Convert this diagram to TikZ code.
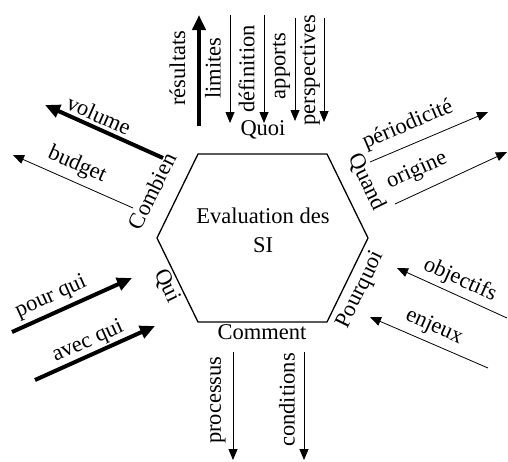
\documentclass[tikz,border=0pt]{standalone}
\usepackage{fontspec}
\setmainfont{Liberation Serif}
\newfontfamily\tnr{Liberation Serif}
\usetikzlibrary{arrows.meta}
\begin{document}
\begin{tikzpicture}[x=1pt,y=-1pt,
  lbl/.style={font=\tnr\fontsize{22.5}{29}\selectfont, inner sep=0pt},
  thinarrow/.style={line width=0.8pt, -{Triangle[length=11pt,width=9pt]}},
  thickarrow/.style={line width=4pt, -{Triangle[length=15pt,width=13pt]}},
  hexline/.style={line width=1.3pt, line join=miter}]
\useasboundingbox (0,0) rectangle (508,461);

% hexagon
\coordinate (h1) at (198,154);
\coordinate (h2) at (327,154);
\coordinate (h3) at (368,238);
\coordinate (h4) at (327,322);
\coordinate (h5) at (198,322);
\coordinate (h6) at (157,238);
\draw[hexline] (h1) -- (h2) -- (h3) -- (h4) -- (h5) -- (h6) -- cycle;
\node[lbl, align=center] (center) at (263,230) {Evaluation des\\SI};

% side labels
\node[lbl] (quoi) at (263,130) {Quoi};
\node[lbl] (comment) at (262,332) {Comment};
\node[lbl, rotate=64] (combien) at (152,191) {Combien};
\node[lbl, rotate=-64] (quand) at (367,182) {Quand};
\node[lbl, rotate=-64] (qui) at (167,286) {Qui};
\node[lbl, rotate=64] (pourquoi) at (361,290) {Pourquoi};

% Quoi arrows
\coordinate (resA) at (199,126); \coordinate (resB) at (199,15);
\coordinate (limA) at (230,15);  \coordinate (limB) at (230,123);
\coordinate (defA) at (264,15);  \coordinate (defB) at (264,123);
\coordinate (appA) at (295,18);  \coordinate (appB) at (295,121);
\coordinate (perA) at (324,18);  \coordinate (perB) at (324,122);
\draw[thickarrow] (resA) -- (resB);
\draw[thinarrow] (limA) -- (limB);
\draw[thinarrow] (defA) -- (defB);
\draw[thinarrow] (appA) -- (appB);
\draw[thinarrow] (perA) -- (perB);
\node[lbl, rotate=90] (resultats) at (177.5,68) {résultats};
\node[lbl, rotate=90] (limites) at (213,68) {limites};
\node[lbl, rotate=90] (definition) at (246.5,69) {définition};
\node[lbl, rotate=90] (apports) at (281.5,66) {apports};
\node[lbl, rotate=90] (perspectives) at (310,70) {perspectives};

% Combien arrows
\coordinate (volA) at (163,158); \coordinate (volB) at (45,105);
\coordinate (budA) at (133,208); \coordinate (budB) at (13,155);
\draw[thickarrow] (volA) -- (volB);
\draw[thinarrow] (budA) -- (budB);
\node[lbl, rotate=-24] (volume) at (99,115) {volume};
\node[lbl, rotate=-24] (budget) at (77,165) {budget};

% Quand arrows
\coordinate (perioA) at (370,162); \coordinate (perioB) at (488,112);
\coordinate (origA) at (395,204);  \coordinate (origB) at (507,152);
\draw[thinarrow] (perioA) -- (perioB);
\draw[thinarrow] (origA) -- (origB);
\node[lbl, rotate=23] (periodicite) at (408,125) {périodicité};
\node[lbl, rotate=24] (origine) at (417,171) {origine};

% Pourquoi arrows
\coordinate (objA) at (507,318); \coordinate (objB) at (397,268);
\coordinate (enjA) at (488,368); \coordinate (enjB) at (370,317);
\draw[thinarrow] (objA) -- (objB);
\draw[thinarrow] (enjA) -- (enjB);
\node[lbl, rotate=-24] (objectifs) at (460,280) {objectifs};
\node[lbl, rotate=-24] (enjeux) at (434,327) {enjeux};

% Qui arrows
\coordinate (pqA) at (12,332); \coordinate (pqB) at (132,278);
\coordinate (aqA) at (35,380); \coordinate (aqB) at (155,326);
\draw[thickarrow] (pqA) -- (pqB);
\draw[thickarrow] (aqA) -- (aqB);
\node[lbl, rotate=24] (pourqui) at (51,297) {pour qui};
\node[lbl, rotate=24] (avecqui) at (88,342) {avec qui};

% Comment arrows
\coordinate (proA) at (233,352); \coordinate (proB) at (233,460);
\coordinate (conA) at (304,352); \coordinate (conB) at (304,460);
\draw[thinarrow] (proA) -- (proB);
\draw[thinarrow] (conA) -- (conB);
\node[lbl, rotate=90] (processus) at (218,400) {processus};
\node[lbl, rotate=90] (conditions) at (287,400) {conditions};
\end{tikzpicture}
\end{document}
